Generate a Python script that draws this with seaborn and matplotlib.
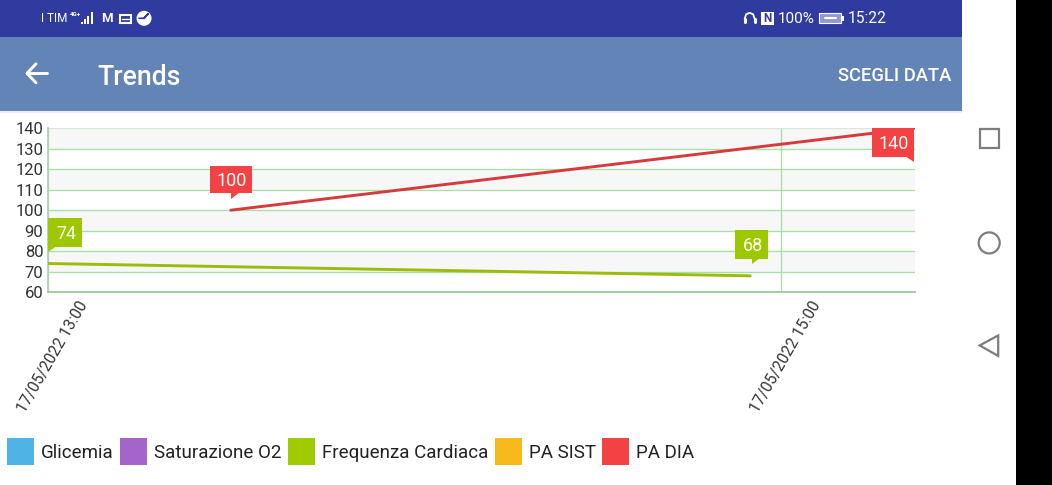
import matplotlib
matplotlib.use("Agg")
import matplotlib.pyplot as plt
import matplotlib.dates as mdates
from matplotlib.patches import Rectangle, Polygon, Circle
from matplotlib.transforms import Affine2D, ScaledTranslation
import pandas as pd
import seaborn as sns

sns.set_theme(style="white")
plt.rcParams['font.family'] = ['Roboto', 'DejaVu Sans']

# ---- data ----
hr_times = ["2022-05-17 13:00", "2022-05-17 14:55"]
hr_values = [74, 68]
dia_times = ["2022-05-17 13:30", "2022-05-17 15:22"]
dia_values = [100, 140]
tick_times = ["2022-05-17 13:00", "2022-05-17 15:00"]
y_ticks = [60, 70, 80, 90, 100, 110, 120, 130, 140]
legend_names = ["Glicemia", "Saturazione O2", "Frequenza Cardiaca", "PA SIST", "PA DIA"]
legend_colors = ["#4fb3e6", "#a564c9", "#9fcb00", "#f8b91c", "#f44244"]
legend_box_x = [7, 120, 288, 495, 602]
x_start, x_end = "2022-05-17 13:00", "2022-05-17 15:22"

W, H = 1052, 485
fig = plt.figure(figsize=((W + 0.2) / 100, (H + 0.2) / 100), dpi=100, facecolor="white")

# ---- screen furniture, in pixel coordinates ----
bg = fig.add_axes([0, 0, 1, 1], zorder=0)
bg.set_xlim(0, W); bg.set_ylim(H, 0); bg.axis("off")
bg.add_patch(Rectangle((1016, 0), 36, H, fc="black", ec="none"))
bg.add_patch(Rectangle((0, 0), 962, 37, fc="#2f3b9f", ec="none"))
bg.add_patch(Rectangle((0, 37), 962, 74.5, fc="#6384b7", ec="none"))
bg.add_patch(Rectangle((0, 111.5), 962, 1.5, fc="#eeeeee", ec="none"))
wht = "white"
bg.text(41, 18.5, "I TIM", color=wht, fontsize=8.5, va="center", ha="left")
bg.text(70, 14, "4G+", color=wht, fontsize=4.5, va="center", ha="left", weight="bold")
for i, top in enumerate([22, 19, 16, 12]):
    bg.add_patch(Rectangle((81 + i * 3.2, top), 2, 24.5 - top, fc=wht, ec="none"))
bg.text(107, 18.5, "M", color=wht, fontsize=9.5, va="center", ha="center", weight="bold")
bg.add_patch(Rectangle((120, 15), 11, 8, fc="none", ec=wht, lw=1.5))
bg.plot([122, 129], [19, 19], color=wht, lw=1)
bg.add_patch(Circle((144, 18.5), 7.5, fc=wht, ec="none"))
bg.plot([144, 148, 144, 139], [18.5, 14, 18.5, 18.5], color="#2f3b9f", lw=1.2)
bg.plot([744.5, 744.5], [19, 22.5], color=wht, lw=2.2)
bg.plot([754.5, 754.5], [19, 22.5], color=wht, lw=2.2)
bg.plot([744.5, 746, 749.5, 753, 754.5], [19, 14.5, 13, 14.5, 19], color=wht, lw=1.3)
bg.add_patch(Rectangle((761, 12), 13, 13.5, fc=wht, ec="none"))
bg.text(767.5, 18.8, "N", color="#2f3b9f", fontsize=8.5, va="center", ha="center", weight="bold")
bg.text(778, 18.8, "100%", color=wht, fontsize=11, va="center", ha="left")
bg.add_patch(Rectangle((819, 13.5), 22, 10, fc="#8f9bd0", ec=wht, lw=0.8))
bg.add_patch(Rectangle((842, 16), 1.5, 5, fc=wht, ec="none"))
bg.plot([825, 836], [18.5, 18.5], color=wht, lw=1.5)
bg.text(848, 18.8, "15:22", color=wht, fontsize=11.2, va="center", ha="left")
bg.plot([27, 46.5], [73.5, 73.5], color=wht, lw=2.1)
bg.plot([36, 27, 36], [64, 73.5, 83], color=wht, lw=2.1)
bg.text(97, 77, "Trends", color=wht, fontsize=19.2, weight="medium", va="center", ha="left")
bg.text(951, 76, "SCEGLI DATA", color=wht, fontsize=13.2, weight="medium", va="center", ha="right")
gr = "#7d7d7d"
bg.add_patch(Rectangle((979.5, 129.5), 19, 19, fc="none", ec=gr, lw=1.6))
bg.add_patch(Circle((989, 243), 10.5, fc="none", ec=gr, lw=1.6))
bg.add_patch(Polygon([(979.5, 345.5), (998, 335.5), (998, 356)], closed=True, fc="none", ec=gr, lw=1.6))

# ---- legend ----
for name, col, x in zip(legend_names, legend_colors, legend_box_x):
    bg.add_patch(Rectangle((x, 438.5), 26.5, 26.5, fc=col, ec="none"))
    bg.text(x + 34, 453, name, color="#222222", fontsize=13.5, va="center", ha="left")

# ---- chart ----
L, R, T, B = 47.5, 915.0, 128.3, 292.3
ax = fig.add_axes([L / W, 1 - B / H, (R - L) / W, (B - T) / H], zorder=1)
ax.set_facecolor("none")
ax.set_ylim(60, 140)
ax.set_xlim(pd.Timestamp(x_start), pd.Timestamp(x_end))
grid = "#a3e2a3"
for lo in [70, 90, 110, 130]:
    ax.axhspan(lo, lo + 10, color="#f7f7f7", lw=0, zorder=0)
ax.set_yticks(y_ticks)
ax.set_xticks(pd.to_datetime(tick_times))
ax.xaxis.set_major_formatter(mdates.DateFormatter("%d/%m/%Y %H:%M"))
ax.grid(True, color=grid, lw=0.95, zorder=1)
ax.tick_params(axis="y", labelsize=12, labelcolor="#333333", length=0, pad=3)
ax.tick_params(axis="x", labelsize=11.2, labelcolor="#333333", length=5, width=0.95, color=grid, pad=3)
shift = ScaledTranslation(30 / 100, 5 / 100, fig.dpi_scale_trans)
for lab in ax.get_xticklabels():
    lab.set_rotation(60); lab.set_ha("right"); lab.set_va("top"); lab.set_rotation_mode("anchor")
    lab.set_transform(lab.get_transform() + shift)
for s in ["top", "right"]:
    ax.spines[s].set_visible(False)
ax.spines["left"].set_color("#b8cdbb"); ax.spines["left"].set_linewidth(1.3)
ax.spines["bottom"].set_color("#98c89c"); ax.spines["bottom"].set_linewidth(1.3)
ax.get_ygridlines()[-1].set_color("#dbe6db")

hr = pd.DataFrame({"t": pd.to_datetime(hr_times), "v": hr_values})
dia = pd.DataFrame({"t": pd.to_datetime(dia_times), "v": dia_values})
sns.lineplot(data=hr, x="t", y="v", ax=ax, color="#9dbb08", lw=2.1, zorder=3)
sns.lineplot(data=dia, x="t", y="v", ax=ax, color="#d63a3c", lw=2.1, zorder=3)
ax.set_xlabel(""); ax.set_ylabel("")


def callout(t, v, text, col, box, tip):
    """box = (x0, y0, x1, y1), tip = polygon points: pixels relative to the point, y down."""
    x, y = ax.transData.transform((mdates.date2num(pd.Timestamp(t)), v))
    tr = Affine2D().scale(1, -1).translate(x, y)
    x0, y0, x1, y1 = box
    ax.add_patch(Polygon([(x0, y0), (x1, y0), (x1, y1), (x0, y1)], closed=True, fc=col, ec="none",
                         transform=tr, clip_on=False, zorder=5))
    ax.add_patch(Polygon(tip, closed=True, fc=col, ec="none", transform=tr, clip_on=False, zorder=5))
    cx, cy = ((x0 + x1) / 2 + x) / fig.bbox.width, y - (y0 + y1) / 2
    fig.text(cx + 1 / W, (cy - 1.6) / fig.bbox.height, text, color="#fdfdf0", fontsize=13, ha="center", va="center", zorder=6)


callout(hr_times[0], hr_values[0], str(hr_values[0]), "#9dc800", (0.5, -45.5, 34.5, -17), [(0.5, -11.5), (0.5, -18), (9, -18)])
callout(hr_times[1], hr_values[1], str(hr_values[1]), "#9dc800", (-15, -45.5, 18, -17), [(2, -11.5), (2, -18), (10, -18)])
callout(dia_times[0], dia_values[0], str(dia_values[0]), "#f44244", (-21, -44.5, 21, -17.5), [(0, -11.5), (0, -18), (9, -18)])
callout(dia_times[1], dia_values[1], str(dia_values[1]), "#f44244", (-43, -0.5, -1, 29), [(-1, 34), (-1, 28), (-10, 28)])

fig.savefig("out.png", dpi=100)
